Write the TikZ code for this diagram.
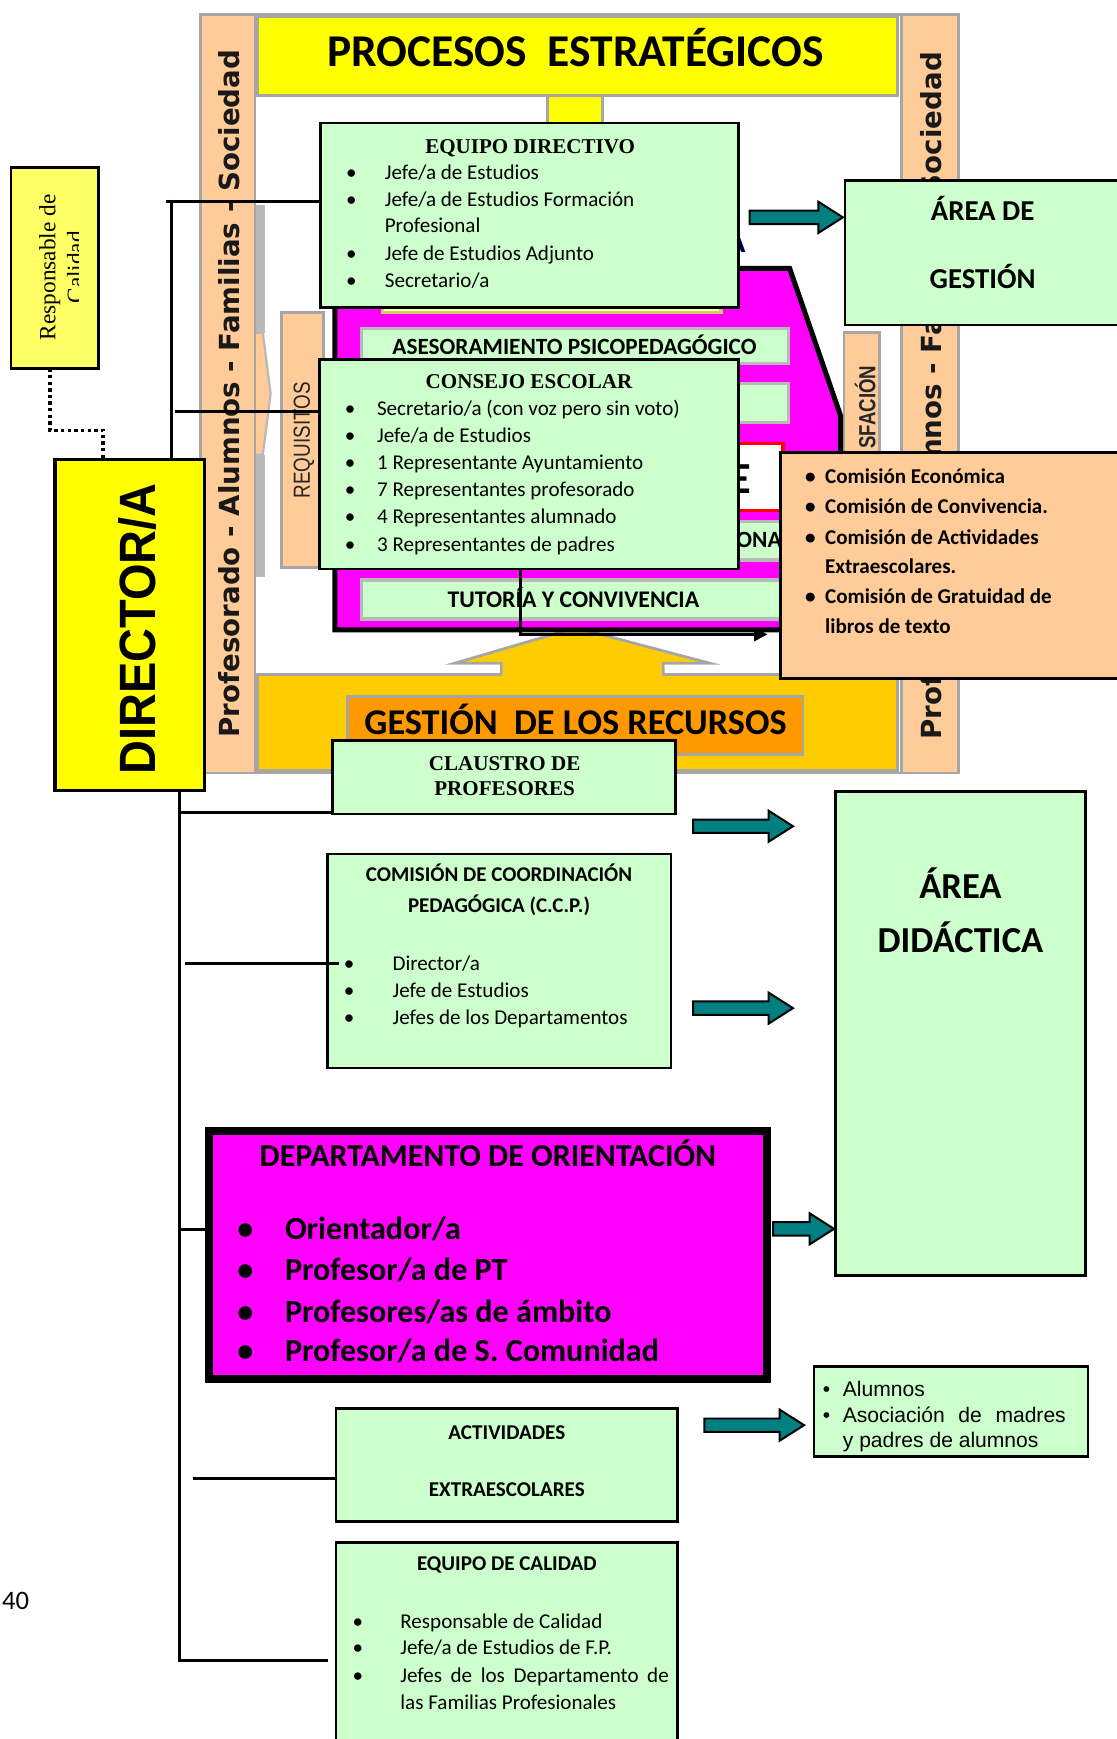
\documentclass[tikz,border=0pt]{standalone}
\usepackage{fontspec}
\setmainfont{Liberation Serif}
\newfontfamily\calib{Carlito}
\newfontfamily\arialf{Liberation Sans}
\newfontfamily\dejaf{DejaVu Sans}
\usetikzlibrary{arrows.meta,calc}

\definecolor{gbox}{HTML}{CCFFCC}
\definecolor{peach}{HTML}{FFCC99}
\definecolor{gold}{HTML}{FFCC00}
\definecolor{orangeb}{HTML}{FF9900}
\definecolor{magen}{HTML}{FF00FF}
\definecolor{tealc}{HTML}{008080}
\definecolor{yelc}{HTML}{FFFF00}
\definecolor{paleyel}{HTML}{FFFF66}
\definecolor{framegray}{HTML}{A6A6A6}

\newcommand\fs[1]{\fontsize{#1}{#1}\selectfont}
\newcommand\bul[2]{\makebox[#1][l]{\textbullet}#2}

\tikzset{
  box/.style={draw=black, line width=2.5pt, fill=gbox, inner sep=0pt, outer sep=0pt},
  band/.style={draw=framegray, line width=2.5pt},
  bar/.style={draw=gray!55, line width=3pt, fill=gbox},
  lt/.style={anchor=base west, inner sep=0pt, outer sep=0pt},
  ct/.style={anchor=base, inner sep=0pt, outer sep=0pt},
  tarrow/.style={draw=black, line width=1.8pt, fill=tealc, line join=miter},
  link/.style={draw=black, line width=2.7pt},
}

% box given by its corners: style, x1, y1, x2, y2, name
\newcommand\boxat[6]{\node[#1, anchor=north west, minimum width={#4-#2}, minimum height={#5-#3}] (#6) at (#2,#3) {};}
% block arrow: name of tip, x start, x tip, y
\newcommand\tealarrow[4]{%
  \draw[tarrow] (#2,{#4-6}) -- ({#3-22},{#4-6}) -- ({#3-22},{#4-14}) -- (#3,#4)
     -- ({#3-22},{#4+14}) -- ({#3-22},{#4+6}) -- (#2,{#4+6}) -- cycle;
  \coordinate (#1) at (#3,#4);}

\begin{document}
\begin{tikzpicture}[x=1pt,y=-1pt]
\useasboundingbox (0,0) rectangle (1007,1568);
\clip (0,0) rectangle (1007,1568);
\fill[white] (0,0) rectangle (1007,1568);

% ---------- process map in the background ----------
\draw[band, fill=white] (181,13) rectangle (864,697);
\draw[band, fill=peach] (181,13) rectangle (230,697);
\draw[band, fill=peach] (813,13) rectangle (864,697);
% shaded chevron on the inner side of the left column
\fill[gray!55] (231,185) rectangle (239,300);
\fill[gray!55] (231,410) rectangle (239,520);
\draw[gray!55, line width=2pt, fill=peach] (231,300) -- (237,300) -- (244,355) -- (237,410) -- (231,410);

% strategic processes banner
\fill[yelc] (494,84) rectangle (543,132);
\draw[band] (494,86) -- (494,132) (543,86) -- (543,132);
\draw[band, fill=yelc] (232,15) rectangle (809,86);
\node[ct, font=\calib\bfseries\fs{41}] (pe) at (519,60) {PROCESOS~ ESTRATÉGICOS};

% requirement / satisfaction columns
\draw[band, fill=peach] (254,282) rectangle (292,512);
\node[rotate=90, inner sep=0pt, font=\arialf\fs{21}, text=black!85] (req) at (274,397) {\scalebox{0.81}[1]{REQUISITOS}};
\draw[band, fill=peach] (761,300) rectangle (793,640);
\node[rotate=90, inner sep=0pt, font=\arialf\bfseries\fs{21}, text=black!85] (sat) at (780,367) {\scalebox{0.8}[1]{SFACIÓN}};

% stakeholder columns
\node[rotate=90, inner sep=0pt, text=black!90] (lcol) at (207,355) {\resizebox{620pt}{!}{\dejaf\bfseries\fs{25}Profesorado - Alumnos - Familias - Sociedad}};
\node[rotate=90, inner sep=0pt, text=black!90] (rcol) at (840,357) {\resizebox{620pt}{!}{\dejaf\bfseries\fs{25}Profesorado - Alumnos - Familias - Sociedad}};

% resources band and upward arrow
\draw[band, fill=gold] (232,608) rectangle (809,695);
\fill[gold] (452,611) -- (452,598) -- (410,598) -- (519,566) -- (640,598) -- (598,598) -- (598,611) -- cycle;
\draw[band, line join=miter] (452,609) -- (452,598) -- (410,598) -- (519,566) -- (640,598) -- (598,598) -- (598,609);
\draw[band, fill=orangeb] (313,628) rectangle (724,680);
\node[ct, font=\calib\bfseries\fs{32.7}] (rec) at (519,662) {GESTIÓN~ DE LOS RECURSOS};

% key processes (magenta)
\node[lt, font=\calib\bfseries\fs{30}, text=blue!35!black] (klet) at (654,228) {A};
\draw[line width=4.5pt, fill=magen, line join=miter] (302,242) -- (712,242) -- (758,375) -- (758,568) -- (302,568) -- cycle;
\draw[draw=olive!45, line width=3pt, fill=yellow!35] (345,262) rectangle (650,282);
\draw[bar] (326,296) rectangle (711,328);
\node[ct, font=\calib\bfseries\fs{21}] (ase) at (518,320) {ASESORAMIENTO PSICOPEDAGÓGICO};
\draw[bar] (326,346) rectangle (711,381);
\draw[draw=red, line width=3pt, fill=white] (600,400) rectangle (706,460);
\node[lt, font=\calib\bfseries\fs{40}] (elet) at (658,445) {E};
\draw[bar] (326,470) rectangle (711,505);
\node[lt, font=\calib\bfseries\fs{21}] (ona) at (664,494) {ONA};
\draw[bar] (326,523) rectangle (705,558);
\node[ct, font=\calib\bfseries\fs{21.5}] (tut) at (517,548) {TUTORÍA Y CONVIVENCIA};

% ---------- organisation chart ----------
\boxat{box, fill=paleyel}{10}{151}{89}{332}{rc}
\node[rotate=90, anchor=base, inner sep=0pt, font=\fs{21}] (rc1) at (50,241) {Responsable de};
\begin{scope}
  \clip (12,153) rectangle (71,330);
  \node[rotate=90, anchor=base, inner sep=0pt, font=\fs{21}] (rc2) at (75,241) {Calidad};
\end{scope}

\boxat{box, fill=yelc, line width=3pt}{49.5}{414.5}{184.5}{712.5}{dir}
\node[rotate=90, inner sep=0pt, font=\arialf\bfseries\fs{46}] (dirt) at (124,567) {\scalebox{0.92}[1]{DIRECTOR/A}};

% equipo directivo
\boxat{box}{289}{111}{666}{277}{ed}
\node[ct, font=\bfseries\fs{19}] (edh) at (478,138) {EQUIPO DIRECTIVO};
\begin{scope}[every node/.style={lt, font=\calib\fs{19}}]
  \node (ed1) at (312,162) {\bul{35pt}{Jefe/a de Estudios}};
  \node (ed2) at (312,186) {\bul{35pt}{Jefe/a de Estudios Formación}};
  \node (ed3) at (347,210) {Profesional};
  \node (ed4) at (312,235) {\bul{35pt}{Jefe de Estudios Adjunto}};
  \node (ed5) at (312,259) {\bul{35pt}{Secretario/a}};
\end{scope}

% consejo escolar
\boxat{box}{288}{324}{666}{513}{ce}
\node[ct, font=\bfseries\fs{19}] (ceh) at (477,350) {CONSEJO ESCOLAR};
\begin{scope}[every node/.style={lt, font=\calib\fs{19}}]
  \node (ce1) at (311,375) {\bul{29pt}{Secretario/a (con voz pero sin voto)}};
  \node (ce2) at (311,399) {\bul{29pt}{Jefe/a de Estudios}};
  \node (ce3) at (311,423) {\bul{29pt}{1 Representante Ayuntamiento}};
  \node (ce4) at (311,448) {\bul{29pt}{7 Representantes profesorado}};
  \node (ce5) at (311,472) {\bul{29pt}{4 Representantes alumnado}};
  \node (ce6) at (311,497) {\bul{29pt}{3 Representantes de padres}};
\end{scope}

% area de gestion
\boxat{box}{762}{163}{1030}{293}{ag}
\node[ct, font=\calib\bfseries\fs{26}] (ag1) at (886,199) {ÁREA DE};
\node[ct, font=\calib\bfseries\fs{26}] (ag2) at (886,260) {GESTIÓN};

% comisiones
\boxat{box, fill=peach}{704}{408}{1030}{612}{cm}
\begin{scope}[every node/.style={lt, font=\calib\bfseries\fs{19}}]
  \node (cm1) at (726,436) {\bul{18pt}{Comisión Económica}};
  \node (cm2) at (726,463) {\bul{18pt}{Comisión de Convivencia.}};
  \node (cm3) at (726,491) {\bul{18pt}{Comisión de Actividades}};
  \node (cm4) at (744,517) {Extraescolares.};
  \node (cm5) at (726,544) {\bul{18pt}{Comisión de Gratuidad de}};
  \node (cm6) at (744,571) {libros de texto};
\end{scope}

% claustro
\boxat{box}{300}{668}{609}{734}{cl}
\node[ct, font=\bfseries\fs{19}] (cl1) at (455,695) {CLAUSTRO DE};
\node[ct, font=\bfseries\fs{19}] (cl2) at (455,717) {PROFESORES};

% ccp
\boxat{box}{295}{770}{605}{963}{ccp}
\node[ct, font=\calib\bfseries\fs{18.9}] (ccp1) at (450,795) {COMISIÓN DE COORDINACIÓN};
\node[ct, font=\calib\bfseries\fs{18.9}] (ccp2) at (450,823) {PEDAGÓGICA (C.C.P.)};
\begin{scope}[every node/.style={lt, font=\calib\fs{19}}]
  \node (ccp3) at (310,875) {\bul{44pt}{Director/a}};
  \node (ccp4) at (310,899) {\bul{44pt}{Jefe de Estudios}};
  \node (ccp5) at (310,924) {\bul{44pt}{Jefes de los Departamentos}};
\end{scope}

% area didactica
\boxat{box}{753}{714}{979}{1150}{ad}
\node[ct, font=\calib\bfseries\fs{33}] (ad1) at (866,810) {ÁREA};
\node[ct, font=\calib\bfseries\fs{33}] (ad2) at (866,859) {DIDÁCTICA};

% departamento de orientacion
\boxat{box, fill=magen, line width=7pt}{188.5}{1019.5}{691.5}{1243.5}{do}
\node[ct, font=\calib\bfseries\fs{28.8}] (do0) at (440,1052) {DEPARTAMENTO DE ORIENTACIÓN};
\begin{scope}[every node/.style={lt, font=\calib\bfseries\fs{29}}]
  \node (do1) at (214,1118) {\bul{43pt}{Orientador/a}};
  \node (do2) at (214,1155) {\bul{43pt}{Profesor/a de PT}};
  \node (do3) at (214,1192) {\bul{43pt}{Profesores/as de ámbito}};
  \node (do4) at (214,1228) {\bul{43pt}{Profesor/a de S. Comunidad}};
\end{scope}

% alumnos / ampa
\boxat{box}{734}{1232}{981}{1313}{al}
\begin{scope}[every node/.style={lt, font=\arialf\fs{19}}]
  \node (al1) at (742,1259) {\bul{18pt}{Alumnos}};
  \node (al2) at (742,1283) {\bul{18pt}{\makebox[201pt][s]{Asociación de madres}}};
  \node (al3) at (760,1305) {y padres de alumnos};
\end{scope}

% actividades extraescolares
\boxat{box}{303}{1270}{611}{1372}{ae}
\node[ct, font=\calib\bfseries\fs{19}] (ae1) at (457,1298) {ACTIVIDADES};
\node[ct, font=\calib\bfseries\fs{19}] (ae2) at (457,1349) {EXTRAESCOLARES};

% equipo de calidad
\boxat{box}{303}{1391}{611}{1620}{eq}
\node[ct, font=\calib\bfseries\fs{19}] (eq0) at (457,1416) {EQUIPO DE CALIDAD};
\begin{scope}[every node/.style={lt, font=\calib\fs{19}}]
  \node (eq1) at (318,1468) {\bul{43pt}{Responsable de Calidad}};
  \node (eq2) at (318,1492) {\bul{43pt}{Jefe/a de Estudios de F.P.}};
  \node (eq3) at (318,1517) {\bul{43pt}{\makebox[242pt][s]{Jefes de los Departamento de}}};
  \node (eq4) at (361,1541) {las Familias Profesionales};
\end{scope}

\node[lt, font=\calib\fs{24}] (pg) at (2,1451) {40};

% ---------- block arrows ----------
\tealarrow{a1}{676}{760}{196}
\tealarrow{a2}{625}{715}{745}
\tealarrow{a3}{625}{715}{909}
\tealarrow{a4}{697}{752}{1108}
\tealarrow{a5}{635}{725}{1285}

% ---------- connectors ----------
\draw[black, line width=3pt, dash pattern=on 3pt off 3pt] (rc.south -| 45,0) -- (45,388) -- (93,388) -- (dir.north -| 93,0);

\coordinate (ut) at (155,182);
\draw[link] (155,180) -- (dir.north -| ut);
\draw[link] ([xshift=-5pt]ut) -- (ut -| ed.west);
\coordinate (cb) at (158,371);
\draw[link] (cb) -- (cb -| ce.west);

\coordinate (lb) at (162,1497);
\draw[link] (dir.south -| lb) -- (lb) -- ($(lb -| eq.west)+(-7,0)$);
\coordinate (b1) at (162,733);
\draw[link] (b1) -- (b1 -| cl.west);
\coordinate (b2) at (167,869);
\draw[link] (b2) -- ($(b2 -| ccp.west)+(11,0)$);
\coordinate (b3) at (162,1109);
\draw[link] (b3) -- (b3 -| do.west);
\coordinate (b4) at (174,1333);
\draw[link] (b4) -- (b4 -| ae.west);

\coordinate (cs) at (ce.south -| 469,0);
\draw[link, -{Triangle[length=12pt,width=12pt]}] (cs) -- (469,572) -- ($(cm.west |- 0,572)+(-12,0)$);

\end{tikzpicture}
\end{document}
